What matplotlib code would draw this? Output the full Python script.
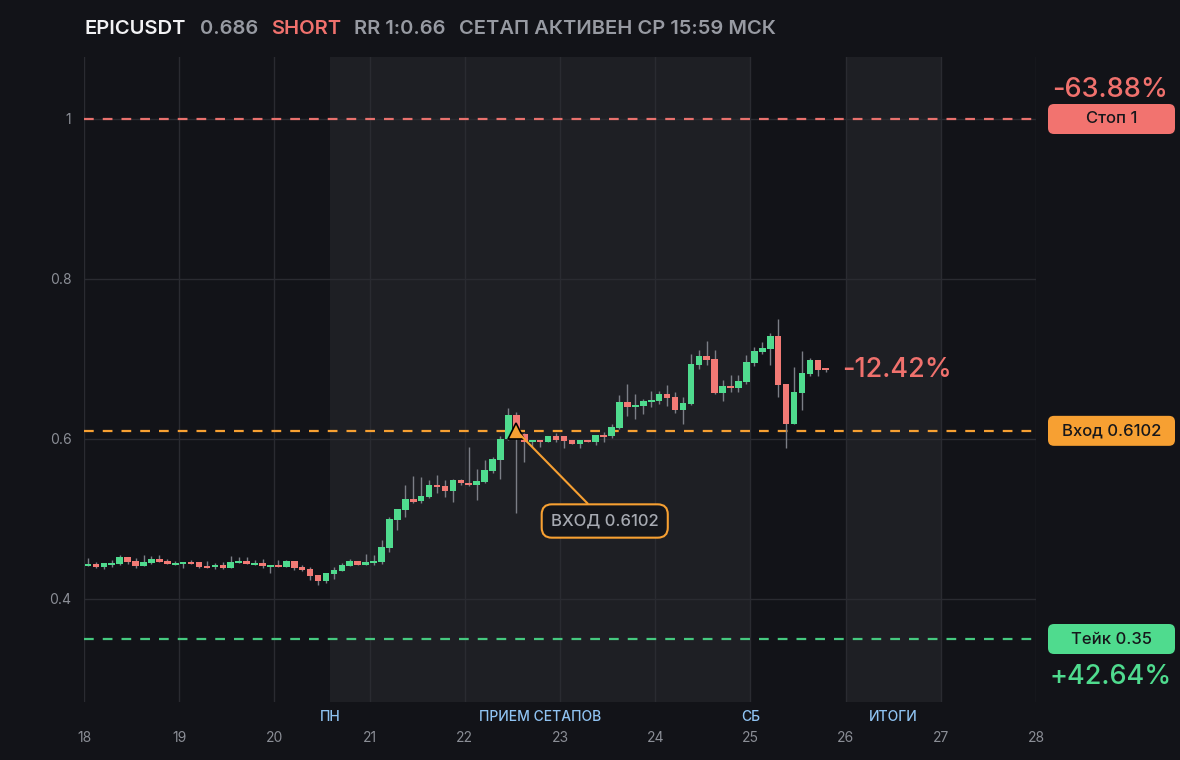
import numpy as np
import matplotlib
matplotlib.use("Agg")
import matplotlib.pyplot as plt
from matplotlib.patches import FancyBboxPatch
from matplotlib.transforms import IdentityTransform, blended_transform_factory

plt.rcParams['font.family'] = ['Inter', 'DejaVu Sans']
plt.rcParams['lines.scale_dashes'] = False

# 2h candles, first one at 18th 01:00
t_start = 18 + 1 / 24
step = 2 / 24

opens = [0.4413, 0.4438, 0.4400, 0.4425, 0.4438, 0.4525, 0.4475, 0.4413, 0.4450, 0.4500,
         0.4475, 0.4425, 0.4438, 0.4463, 0.4463, 0.4413, 0.4400, 0.4425, 0.4388, 0.4450,
         0.4475, 0.4425, 0.4450, 0.4400, 0.4425, 0.4400, 0.4475, 0.4400, 0.4375, 0.4300,
         0.4225, 0.4313, 0.4350, 0.4413, 0.4475, 0.4425, 0.4450, 0.4460, 0.4640, 0.4988,
         0.5113, 0.5250, 0.5220, 0.5280, 0.5425, 0.5410, 0.5354, 0.5488, 0.5450, 0.5430,
         0.5467, 0.5604, 0.5742, 0.6000, 0.6300, 0.6058, 0.5967, 0.5988, 0.5967, 0.6037,
         0.6037, 0.5988, 0.5933, 0.5988, 0.5967, 0.6050, 0.6040, 0.6142, 0.6463, 0.6400,
         0.6410, 0.6463, 0.6470, 0.6560, 0.6520, 0.6360, 0.6440, 0.6920, 0.7040, 0.7000,
         0.6570, 0.6660, 0.6640, 0.6712, 0.6950, 0.7088, 0.7125, 0.7287, 0.6688, 0.6188,
         0.6575, 0.6813, 0.6988, 0.6888]
closes = [0.4438, 0.4400, 0.4446, 0.4450, 0.4525, 0.4463, 0.4413, 0.4463, 0.4500, 0.4463,
          0.4438, 0.4450, 0.4463, 0.4438, 0.4400, 0.4388, 0.4425, 0.4388, 0.4463, 0.4475,
          0.4438, 0.4450, 0.4413, 0.4425, 0.4400, 0.4475, 0.4388, 0.4363, 0.4288, 0.4225,
          0.4325, 0.4363, 0.4425, 0.4475, 0.4425, 0.4463, 0.4475, 0.4650, 0.5000, 0.5125,
          0.5250, 0.5217, 0.5290, 0.5425, 0.5404, 0.5354, 0.5488, 0.5446, 0.5430, 0.5470,
          0.5613, 0.5750, 0.6000, 0.6300, 0.6017, 0.5967, 0.5988, 0.5967, 0.6037, 0.5988,
          0.5979, 0.5933, 0.5988, 0.5967, 0.6050, 0.6029, 0.6150, 0.6463, 0.6404, 0.6420,
          0.6470, 0.6492, 0.6560, 0.6510, 0.6360, 0.6450, 0.6940, 0.7040, 0.6990, 0.6570,
          0.6660, 0.6640, 0.6720, 0.6963, 0.7100, 0.7138, 0.7287, 0.6675, 0.6188, 0.6587,
          0.6825, 0.6988, 0.6863, 0.6863]
highs = [0.4508, 0.4463, 0.4446, 0.4488, 0.4550, 0.4525, 0.4513, 0.4550, 0.4538, 0.4550,
         0.4500, 0.4475, 0.4463, 0.4488, 0.4463, 0.4475, 0.4446, 0.4463, 0.4538, 0.4525,
         0.4525, 0.4488, 0.4500, 0.4425, 0.4488, 0.4488, 0.4475, 0.4425, 0.4400, 0.4300,
         0.4325, 0.4400, 0.4450, 0.4500, 0.4475, 0.4563, 0.4550, 0.4738, 0.5030, 0.5125,
         0.5425, 0.5540, 0.5520, 0.5488, 0.5550, 0.5488, 0.5500, 0.5500, 0.5904, 0.5625,
         0.5738, 0.5780, 0.6040, 0.6383, 0.6333, 0.6075, 0.5988, 0.5988, 0.6037, 0.6070,
         0.6037, 0.5988, 0.5988, 0.5988, 0.6050, 0.6083, 0.6188, 0.6550, 0.6688, 0.6560,
         0.6500, 0.6600, 0.6600, 0.6675, 0.6588, 0.6520, 0.7060, 0.7110, 0.7225, 0.7113,
         0.6738, 0.6800, 0.6800, 0.7050, 0.7150, 0.7213, 0.7325, 0.7500, 0.6688, 0.6900,
         0.7100, 0.7012, 0.6988, 0.6888]
lows = [0.4410, 0.4388, 0.4375, 0.4404, 0.4425, 0.4438, 0.4388, 0.4413, 0.4438, 0.4463,
        0.4438, 0.4425, 0.4388, 0.4438, 0.4388, 0.4388, 0.4375, 0.4375, 0.4388, 0.4450,
        0.4438, 0.4425, 0.4388, 0.4325, 0.4400, 0.4400, 0.4363, 0.4350, 0.4238, 0.4175,
        0.4200, 0.4250, 0.4350, 0.4413, 0.4425, 0.4425, 0.4425, 0.4440, 0.4590, 0.4863,
        0.5030, 0.5200, 0.5200, 0.5260, 0.5329, 0.5280, 0.5210, 0.5430, 0.5410, 0.5238,
        0.5450, 0.5571, 0.5504, 0.5990, 0.5071, 0.5717, 0.5905, 0.5905, 0.5967, 0.5960,
        0.5883, 0.5933, 0.5883, 0.5967, 0.5925, 0.5967, 0.6017, 0.6130, 0.6288, 0.6250,
        0.6310, 0.6400, 0.6440, 0.6413, 0.6325, 0.6187, 0.6430, 0.6875, 0.6925, 0.6563,
        0.6475, 0.6587, 0.6587, 0.6688, 0.6913, 0.7063, 0.6925, 0.6525, 0.5888, 0.6188,
        0.6363, 0.6788, 0.6788, 0.6838]

symbol = "EPICUSDT"
last_price = "0.686"
side = "SHORT"
stop_level = 1.0
entry_level = 0.6102
take_level = 0.35
entry_time = t_start + 54 * step
stop_pct = "-63.88%"
take_pct = "+42.64%"
now_pct = "-12.42%"
day_ticks = list(range(18, 29))
y_ticks = [0.4, 0.6, 0.8, 1.0]
y_labels = ["0.4", "0.6", "0.8", "1"]
zones = [(20 + 14 / 24, 25.0), (26.0, 27.0)]
zone_labels = [("ПН", 20 + 14 / 24), ("ПРИЕМ СЕТАПОВ", (20 + 14 / 24 + 25) / 2),
               ("СБ", 25.0), ("ИТОГИ", 26.5)]

BG = "#121318"
ZONE = "#1e1f24"
GRID = "#2a2b31"
GREEN = "#4fdb8e"
RED = "#f27a75"
ORANGE = "#f7a032"
GREY = "#8b8e96"

W, H = 1180, 760
fig = plt.figure(figsize=(W / 100, H / 100), dpi=100, facecolor=BG)
ax = fig.add_axes([84 / W, 1 - 702 / H, (1036 - 84) / W, (702 - 57) / H])
ax.set_facecolor(BG)
for s in ax.spines.values():
    s.set_visible(False)

ax.set_xlim(18, 28)
ax.set_ylim(0.27125, 1.0775)

for a, b in zones:
    ax.axvspan(a, b, color=ZONE, zorder=0, lw=0)

ax.set_xticks(day_ticks)
ax.set_xticklabels([str(d) for d in day_ticks])
ax.set_yticks(y_ticks)
ax.set_yticklabels(y_labels)
ax.tick_params(axis='x', length=0, pad=21, colors=GREY, labelsize=10)
ax.tick_params(axis='y', length=0, pad=9, colors=GREY, labelsize=10)
ax.grid(True, color=GRID, lw=1, zorder=1)
ax.set_axisbelow(True)

# candles
t = t_start + step * np.arange(len(opens))
o = np.array(opens)
c = np.array(closes)
up = c >= o
colors = np.where(up, GREEN, RED)
body_lo = np.minimum(o, c)
body_h = np.maximum(np.abs(c - o), 0.0015)
ax.vlines(t, lows, highs, color="#7b7e86", lw=1, zorder=3)
ax.bar(t, body_h, bottom=body_lo, width=step * 0.84, color=colors, lw=0, zorder=4)

# levels
ax.axhline(stop_level, color="#e8716d", lw=1.6, dashes=(7, 6.5), zorder=2)
ax.axhline(entry_level, color=ORANGE, lw=1.6, dashes=(7, 6.5), zorder=2)
ax.axhline(take_level, color="#45c97f", lw=1.6, dashes=(7, 6.5), zorder=2)

# entry marker + callout
ax.plot([entry_time], [entry_level], marker='^', ms=11, color=ORANGE,
        mec='black', mew=1.2, zorder=6)
ax.annotate("ВХОД 0.6102", xy=(entry_time, entry_level), xytext=(23.47, 0.4975),
            ha='center', va='center', fontsize=12, color="#a7aab2", fontweight='medium',
            bbox=dict(boxstyle="round,pad=0.55,rounding_size=0.6", fc="#15161b",
                      ec=ORANGE, lw=1.5),
            arrowprops=dict(arrowstyle='-', color=ORANGE, lw=1.5, shrinkA=0, shrinkB=4),
            zorder=7)

ax.text(t[-1] + 2 * step, closes[-1], now_pct, ha='left', va='center',
        fontsize=19.5, color="#f0716d", fontweight='medium', zorder=7)

# zone labels under the plot
trans = blended_transform_factory(ax.transData, ax.transAxes)
for lab, x in zone_labels:
    ax.text(x, -0.0233, lab, transform=trans, ha='center', va='center',
            fontsize=10, color="#8fc3f2", fontweight='medium', clip_on=False)

# right-hand tags (pixel coords)
def tag(level, text, fc, pct=None, pct_dy=0, pct_color=None):
    y = ax.transData.transform((18, level))[1]
    box = FancyBboxPatch((1048, y - 15), 127, 30,
                         boxstyle="round,pad=0,rounding_size=6",
                         fc=fc, ec='none', transform=IdentityTransform())
    fig.patches.append(box)
    fig.text(1111.5 / W, y / H, text, ha='center', va='center', fontsize=12,
             color="#16171b", fontweight='medium')
    if pct:
        fig.text(1110.5 / W, (y + pct_dy) / H, pct, ha='center', va='center',
                 fontsize=19.5, color=pct_color, fontweight='medium')

tag(stop_level, "Стоп 1", "#f2736f", stop_pct, 29, "#f0716d")
tag(entry_level, "Вход 0.6102", ORANGE)
tag(take_level, "Тейк 0.35", GREEN, take_pct, -38, GREEN)

# header
header = [(symbol, 84, "#f2f2f4"), (last_price, 200, "#979aa2"), (side, 271, "#f0716d"),
          ("RR 1:0.66", 354, "#979aa2"), ("СЕТАП АКТИВЕН СР 15:59 МСК", 459, "#979aa2")]
for txt, x, col in header:
    fig.text(x / W, 1 - 29 / H, txt, ha='left', va='center', fontsize=14.5,
             color=col, fontweight='semibold')

fig.savefig("out.png", dpi=100, facecolor=BG)
